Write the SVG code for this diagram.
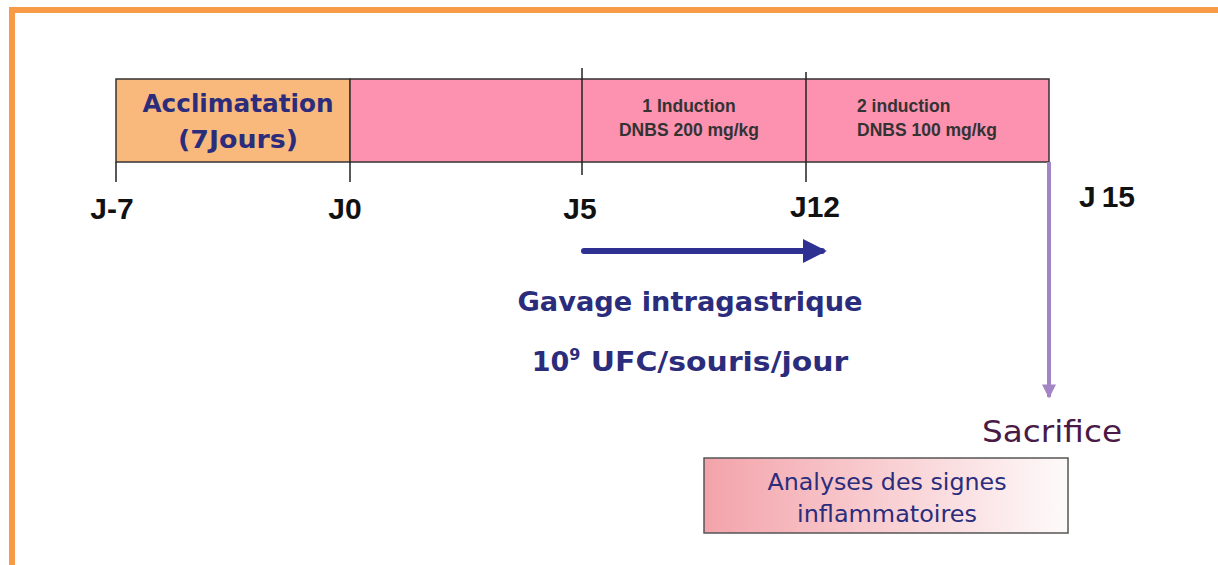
<svg xmlns="http://www.w3.org/2000/svg" width="1218" height="565" viewBox="0 0 1218 565">
<defs>
<style>
.tick{stroke:#222;stroke-width:1.5}
.day{font-family:"Liberation Sans",Arial,sans-serif;font-weight:bold;font-size:30px;fill:#111;text-anchor:middle}
.ind{font-family:"Liberation Sans",Arial,sans-serif;font-weight:bold;font-size:17.5px;fill:#333}
.comic{font-family:"DejaVu Sans",sans-serif;font-weight:bold;fill:#2b2d7c;text-anchor:middle}
</style>
<linearGradient id="pinkgrad" x1="0" y1="0" x2="1" y2="0">
<stop offset="0" stop-color="#f3a3aa"/>
<stop offset="1" stop-color="#fefafa"/>
</linearGradient>
<marker id="navyhead" viewBox="0 0 10 10" refX="8" refY="5" markerWidth="4" markerHeight="4" orient="auto" markerUnits="strokeWidth">
<path d="M0,0 L10,5 L0,10 Z" fill="#2e3192"/>
</marker>
<marker id="purplehead" viewBox="0 0 10 10" refX="9" refY="5" markerWidth="4" markerHeight="3.5" orient="auto" markerUnits="strokeWidth">
<path d="M0,0 L10,5 L0,10 Z" fill="#a385c6"/>
</marker>
</defs>
<rect width="1218" height="565" fill="#ffffff"/>
<path d="M12,565 L12,10 L1218,10" fill="none" stroke="#f79b48" stroke-width="6"/>

<g id="timeline">
<rect id="acclimatation-bar" x="116" y="79" width="234" height="83" fill="#f9b87c" stroke="#333" stroke-width="1.5"/>
<rect id="pink-bar" x="350" y="79" width="699" height="83" fill="#fc91b0" stroke="#333" stroke-width="1.5"/>
<line class="tick" x1="116" y1="162" x2="116" y2="182"/>
<line class="tick" x1="350" y1="162" x2="350" y2="182"/>
<line class="tick" x1="582" y1="68" x2="582" y2="175"/>
<line class="tick" x1="806" y1="72" x2="806" y2="182"/>
</g>

<g id="node-acclimatation">
<text class="comic" x="238" y="112" font-size="25" textLength="191" lengthAdjust="spacingAndGlyphs">Acclimatation</text>
<text class="comic" x="238" y="148" font-size="25" textLength="120" lengthAdjust="spacingAndGlyphs">(7Jours)</text>
</g>
<g id="node-induction1">
<text class="ind" x="689" y="112" text-anchor="middle">1 Induction</text>
<text class="ind" x="689" y="136" text-anchor="middle">DNBS 200 mg/kg</text>
</g>
<g id="node-induction2">
<text class="ind" x="857" y="112">2 induction</text>
<text class="ind" x="857" y="136">DNBS 100 mg/kg</text>
</g>

<g id="day-labels">
<text class="day" x="112" y="219">J-7</text>
<text class="day" x="345" y="219">J0</text>
<text class="day" x="580" y="219">J5</text>
<text class="day" x="815" y="217">J12</text>
<text class="day" x="1107" y="207">J<tspan dx="6">15</tspan></text>
</g>

<g id="connectors">
<line id="gavage-arrow" x1="584" y1="251" x2="822" y2="251" stroke="#2e3192" stroke-width="6" stroke-linecap="round" marker-end="url(#navyhead)"/>
<line id="sacrifice-arrow" x1="1049" y1="162" x2="1049" y2="397" stroke="#a385c6" stroke-width="4" marker-end="url(#purplehead)"/>
</g>

<g id="node-gavage">
<text class="comic" x="690" y="311" font-size="27" textLength="345" lengthAdjust="spacingAndGlyphs">Gavage intragastrique</text>
<text class="comic" x="690" y="371" font-size="27">10<tspan font-size="16" dy="-11">9</tspan><tspan dy="11" textLength="268" lengthAdjust="spacingAndGlyphs"> UFC/souris/jour</tspan></text>
</g>

<g id="node-sacrifice">
<text x="1052" y="442" font-family="DejaVu Sans,sans-serif" font-size="30" fill="#4a1a46" text-anchor="middle" textLength="140" lengthAdjust="spacingAndGlyphs">Sacrifice</text>
</g>

<g id="node-analyses">
<rect x="704" y="458" width="364" height="75" fill="url(#pinkgrad)" stroke="#555" stroke-width="1.5"/>
<text x="887" y="490" font-family="DejaVu Sans,sans-serif" font-size="23" fill="#2b2d7c" text-anchor="middle" textLength="239" lengthAdjust="spacingAndGlyphs">Analyses des signes</text>
<text x="887" y="522" font-family="DejaVu Sans,sans-serif" font-size="23" fill="#2b2d7c" text-anchor="middle" textLength="180" lengthAdjust="spacingAndGlyphs">inflammatoires</text>
</g>
</svg>
